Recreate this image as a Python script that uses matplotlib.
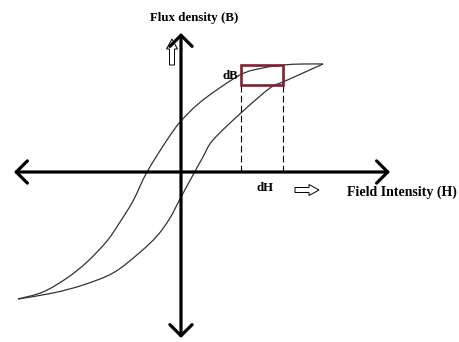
import matplotlib.pyplot as plt
from matplotlib.patches import Rectangle, FancyArrow, PathPatch
from matplotlib.path import Path

# Hysteresis loop (H to the right, B upward, origin at axis crossing)
upper_H = [-163, -138, -114, -94, -74, -61, -48, -34, -14, 0, 22, 59, 82, 102, 122, 142]
upper_B = [-127, -120, -106, -90, -69, -50, -29, 0, 32, 51, 72, 97, 104, 107, 108, 108]
lower_H = [-163, -128, -98, -68, -43, -24, -11, -1, 12, 22, 32, 61, 89, 102, 122, 142]
lower_B = [-127, -121, -113, -101, -82, -64, -46, -27, -3, 15, 32, 60, 84, 90, 99, 108]

# small element dB / dH
dH_range = [60, 102]
dB_range = [87, 107]

x_label = 'Field Intensity (H)'
y_label = 'Flux density (B)'


def smooth_path(xs, ys):
    # Catmull-Rom through the read points, drawn as cubic Bezier segments
    pts = list(zip(xs, ys))
    verts = [pts[0]]
    codes = [Path.MOVETO]
    for i in range(len(pts) - 1):
        p0 = pts[i - 1] if i > 0 else pts[i]
        p1 = pts[i]
        p2 = pts[i + 1]
        p3 = pts[i + 2] if i + 2 < len(pts) else pts[i + 1]
        c1 = (p1[0] + (p2[0] - p0[0]) / 6, p1[1] + (p2[1] - p0[1]) / 6)
        c2 = (p2[0] - (p3[0] - p1[0]) / 6, p2[1] - (p3[1] - p1[1]) / 6)
        verts += [c1, c2, p2]
        codes += [Path.CURVE4] * 3
    return Path(verts, codes)


def main():
    fig = plt.figure(figsize=(4.59, 3.42), dpi=100)
    ax = fig.add_axes([0, 0, 1, 1])
    ax.set_xlim(-181, 278)
    ax.set_ylim(-170, 172)
    ax.axis('off')

    serif = ['Liberation Serif', 'DejaVu Serif']

    # axes with open arrowheads at both ends
    arrow = dict(arrowstyle='<->, head_length=0.4, head_width=0.4', lw=2.3,
                 color='black', mutation_scale=20, shrinkA=0, shrinkB=0)
    ax.annotate('', xy=(209, 0), xytext=(-167, 0), arrowprops=arrow)
    ax.annotate('', xy=(0, 139), xytext=(0, -166), arrowprops=arrow)

    # loop branches
    for hs, bs in [(upper_H, upper_B), (lower_H, lower_B)]:
        ax.add_patch(PathPatch(smooth_path(hs, bs), fill=False,
                               edgecolor='#333333', lw=0.9))

    # dashed guides down to the H axis
    for h in dH_range:
        ax.plot([h, h], [0, dB_range[0]], color='black', lw=0.8, ls=(0, (6, 3)))

    # the dB x dH box
    ax.add_patch(Rectangle((dH_range[0], dB_range[0]), dH_range[1] - dH_range[0],
                           dB_range[1] - dB_range[0], fill=False,
                           edgecolor='#7a2232', lw=1.9, zorder=3))

    # hollow direction arrows
    ax.add_patch(FancyArrow(114, -18, 24, 0, width=5, head_width=11, head_length=10,
                            length_includes_head=True, fill=False,
                            edgecolor='black', lw=0.7))
    ax.add_patch(FancyArrow(-9, 107, 0, 26, width=5, head_width=11, head_length=10,
                            length_includes_head=True, fill=False,
                            edgecolor='black', lw=0.7))

    # labels
    ax.text(13, 154, y_label, ha='center', va='center', fontsize=9.3,
            fontweight='bold', family=serif)
    ax.text(221, -20, x_label, ha='center', va='center', fontsize=10,
            fontweight='bold', family=serif)
    ax.text(49, 96, 'dB', ha='center', va='center', fontsize=9.3,
            fontweight='bold', family=serif)
    ax.text(84, -16, 'dH', ha='center', va='center', fontsize=9.3,
            fontweight='bold', family=serif)

    fig.savefig('out.png', dpi=100)


if __name__ == "__main__":
    main()
